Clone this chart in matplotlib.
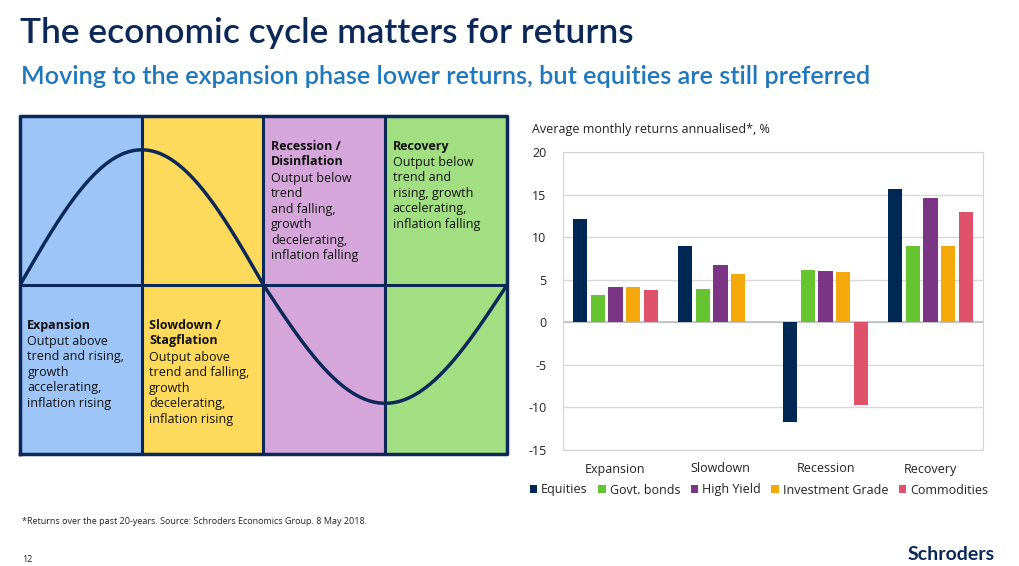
import matplotlib.pyplot as plt
import numpy as np

plt.rcParams['font.family'] = ['Open Sans', 'DejaVu Sans']

# bar chart data
phases = ['Expansion', 'Slowdown', 'Recession', 'Recovery']
assets = ['Equities', 'Govt. bonds', 'High Yield', 'Investment Grade', 'Commodities']
equities = [12.1, 9.0, -11.7, 15.6]
govt_bonds = [3.25, 3.95, 6.1, 8.95]
high_yield = [4.1, 6.7, 6.05, 14.65]
inv_grade = [4.2, 5.65, 5.9, 8.95]
commodities = [3.85, np.nan, -9.7, 12.9]
yticks = [20, 15, 10, 5, 0, -5, -10, -15]

# diagram text
box_titles = ['Expansion', 'Slowdown /\nStagflation', 'Recession /\nDisinflation', 'Recovery']
box_texts = ['Output above\ntrend and rising,\ngrowth\naccelerating,\ninflation rising',
             'Output above\ntrend and falling,\ngrowth\ndecelerating,\ninflation rising',
             'Output below\ntrend\nand falling,\ngrowth\ndecelerating,\ninflation falling',
             'Output below\ntrend and\nrising, growth\naccelerating,\ninflation falling']
box_colors = ['#9ec5f8', '#fdd95c', '#d4a6d9', '#a2de82']

navy = '#0c2858'
bar_colors = ['#002855', '#66c431', '#7b3585', '#f5a80a', '#e0516a']

W, H = 1020, 566
fig = plt.figure(figsize=(W / 100, H / 100), dpi=100)

def px_axes(x0, y0, x1, y1):
    return fig.add_axes([x0 / W, 1 - y1 / H, (x1 - x0) / W, (y1 - y0) / H])

# titles
fig.text(20 / W, 1 - 33 / H, 'The economic cycle matters for returns', fontsize=25.5,
         fontweight='semibold', color=navy, va='center', ha='left', family=['Lato', 'DejaVu Sans'])
fig.text(21 / W, 1 - 76 / H, 'Moving to the expansion phase lower returns, but equities are still preferred',
         fontsize=18.2, fontweight='semibold', color='#1f78be', va='center', ha='left',
         family=['Lato', 'DejaVu Sans'])

# ---- cycle diagram ----
axd = px_axes(20, 116, 507, 454)
axd.set_xlim(0, 4)
axd.set_ylim(-1, 1)
axd.axis('off')
for i, c in enumerate(box_colors):
    axd.axvspan(i, i + 1, color=c, zorder=0)
for xv in [1, 2, 3]:
    axd.axvline(xv, color=navy, lw=2.2, zorder=2)
axd.axhline(0, color=navy, lw=2.2, zorder=2)
axd.plot([0, 4, 4, 0, 0], [-1, -1, 1, 1, -1], color=navy, lw=2.5, zorder=3, clip_on=False)

# schematic cycle curve
up_amp, down_amp = 0.80, 0.70
t = np.linspace(0, 4, 400)
wave = np.sin(t * np.pi / 2)
wave = np.where(wave > 0, wave * up_amp, wave * down_amp)
axd.plot(t, wave, color=navy, lw=2.5, zorder=3)

title_pos = [(0.06, -0.20), (1.06, -0.20), (2.06, 0.86), (3.06, 0.86)]
for (tx, ty), ttl, txt in zip(title_pos, box_titles, box_texts):
    n = ttl.count('\n') + 1
    axd.text(tx, ty, ttl, fontsize=9, fontweight='bold', color='#111111',
             va='top', ha='left', linespacing=1.25, zorder=4)
    axd.text(tx, ty - n * 0.095, txt, fontsize=9, color='#111111',
             va='top', ha='left', linespacing=1.25, zorder=4)

# ---- bar chart ----
axb = px_axes(563, 152, 983, 450)
x = np.arange(len(phases))
slot = 0.168
bw = 0.136
series = [equities, govt_bonds, high_yield, inv_grade, commodities]
for k, (vals, col, name) in enumerate(zip(series, bar_colors, assets)):
    axb.bar(x + (k - 2) * slot, vals, width=bw, color=col, label=name, zorder=3)
axb.set_xlim(-0.5, 3.5)
axb.set_ylim(-15, 20)
axb.set_yticks(yticks)
axb.set_yticklabels([str(v) for v in yticks])
axb.yaxis.grid(True, color='#d9d9d9', lw=1, zorder=0)
axb.axhline(0, color='#bfbfbf', lw=1.2, zorder=2)
axb.set_xticks(x)
axb.set_xticklabels(phases)
axb.tick_params(axis='both', length=0, labelsize=9, colors='#222222')
axb.tick_params(axis='y', pad=12)
axb.tick_params(axis='x', pad=9)
for sp in axb.spines.values():
    sp.set_color('#d4d4d4')
fig.text(532 / W, 1 - 129 / H, 'Average monthly returns annualised*, %', fontsize=9,
         color='#222222', va='center', ha='left')
axb.legend(loc='center', bbox_to_anchor=(759 / W, 1 - 490 / H), bbox_transform=fig.transFigure,
           ncol=5, frameon=False, fontsize=9, handlelength=0.6, handleheight=0.6,
           handletextpad=0.3, columnspacing=0.85, labelcolor='#222222')

# footer
fig.text(22 / W, 1 - 522 / H, '*Returns over the past 20-years. Source: Schroders Economics Group. 8 May 2018.',
         fontsize=6.5, color='#222222', va='center', ha='left')
fig.text(22 / W, 1 - 560 / H, '12', fontsize=6.5, color='#222222', va='center', ha='left')
fig.text(995 / W, 1 - 555 / H, 'Schroders', fontsize=14, fontweight='bold', color=navy,
         va='center', ha='right', family=['Lato', 'DejaVu Sans'])

fig.savefig('out.png', dpi=100)
